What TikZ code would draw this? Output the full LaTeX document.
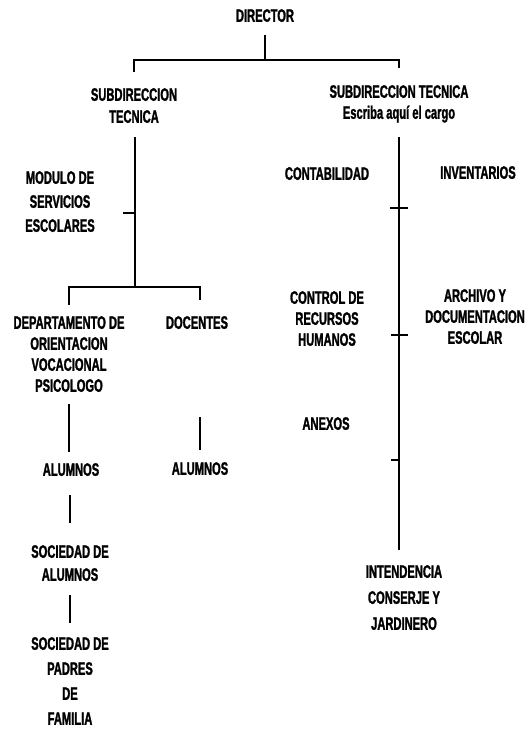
\documentclass[tikz,border=0pt]{standalone}
\usepackage{fontspec}
\setmainfont{Liberation Sans}[FakeStretch=0.62, FakeBold=1.4]
\tikzset{
	cargo/.style={align=center, inner sep=0pt, anchor=north, font=\bfseries\fontsize{18}{#1}\selectfont},
	cargo/.default=21,
	linea/.style={line width=1.1pt}
}
\begin{document}
\begin{tikzpicture}[x=1pt,y=-1pt]
	\useasboundingbox (0,0) rectangle (531,729);
	% nodos
	\node[cargo] (dir) at (265,9) {DIRECTOR};
	\node[cargo=22] (sub1) at (134,88) {SUBDIRECCION\\TECNICA};
	\node[cargo] (sub2) at (399,85) {SUBDIRECCION TECNICA\\Escriba aquí el cargo};
	\node[cargo=24] (mod) at (60,171) {MODULO DE\\SERVICIOS\\ESCOLARES};
	\node[cargo] (conta) at (327,167) {CONTABILIDAD};
	\node[cargo] (inven) at (478,166) {INVENTARIOS};
	\node[cargo] (depto) at (69,316) {DEPARTAMENTO DE\\ORIENTACION\\VOCACIONAL\\PSICOLOGO};
	\node[cargo] (doc) at (197,316) {DOCENTES};
	\node[cargo] (rrhh) at (327,291) {CONTROL DE\\RECURSOS\\HUMANOS};
	\node[cargo] (archivo) at (475,289) {ARCHIVO Y\\DOCUMENTACION\\ESCOLAR};
	\node[cargo] (anexos) at (326,417) {ANEXOS};
	\node[cargo] (alum1) at (71,463) {ALUMNOS};
	\node[cargo] (alum2) at (200,462) {ALUMNOS};
	\node[cargo=23] (socal) at (70,545) {SOCIEDAD DE\\ALUMNOS};
	\node[cargo=25] (socpa) at (70,637) {SOCIEDAD DE\\PADRES\\DE\\FAMILIA};
	\node[cargo=26] (inten) at (404,565) {INTENDENCIA\\CONSERJE Y\\JARDINERO};
	% uniones
	\coordinate (j0) at (265,60);
	\coordinate (j1) at (135,287);
	\coordinate (t1) at (135,213);
	\coordinate (r1) at (399,208);
	\coordinate (r2) at (399,335);
	\coordinate (r3) at (399,460);
	% lineas
	\draw[linea,shorten <=13pt] (dir.south) -- (j0);
	\draw[linea] ([yshift=16pt]sub1.north) |- (j0) -| ([yshift=17pt]sub2.north);
	\draw[linea,shorten <=14pt] (sub1.south -| j1) -- (j1);
	\draw[linea,shorten >=28pt] (t1) -- (t1 -| mod.east);
	\draw[linea] ([yshift=11pt]depto.north) |- (j1) -| ([yshift=16pt]alum2.north |- doc.north);
	\draw[linea,shorten <=12pt,shorten >=11pt] (depto.south) -- (depto.south |- alum1.north);
	\draw[linea,shorten <=88pt,shorten >=12pt] (alum2.north |- doc.south) -- (alum2.north);
	\draw[linea,shorten <=19pt,shorten >=22pt] (alum1.south -| socal.north) -- (socal.north);
	\draw[linea,shorten <=14pt,shorten >=14pt] (socal.south) -- (socpa.north);
	\draw[linea,shorten <=14pt,shorten >=15pt] (sub2.south) -- (sub2.south |- inten.north);
	\draw[linea] ([xshift=-9pt]r1) -- ([xshift=9pt]r1);
	\draw[linea] ([xshift=-8pt]r2) -- ([xshift=9pt]r2);
	\draw[linea] ([xshift=-8pt]r3) -- (r3);
\end{tikzpicture}
\end{document}
